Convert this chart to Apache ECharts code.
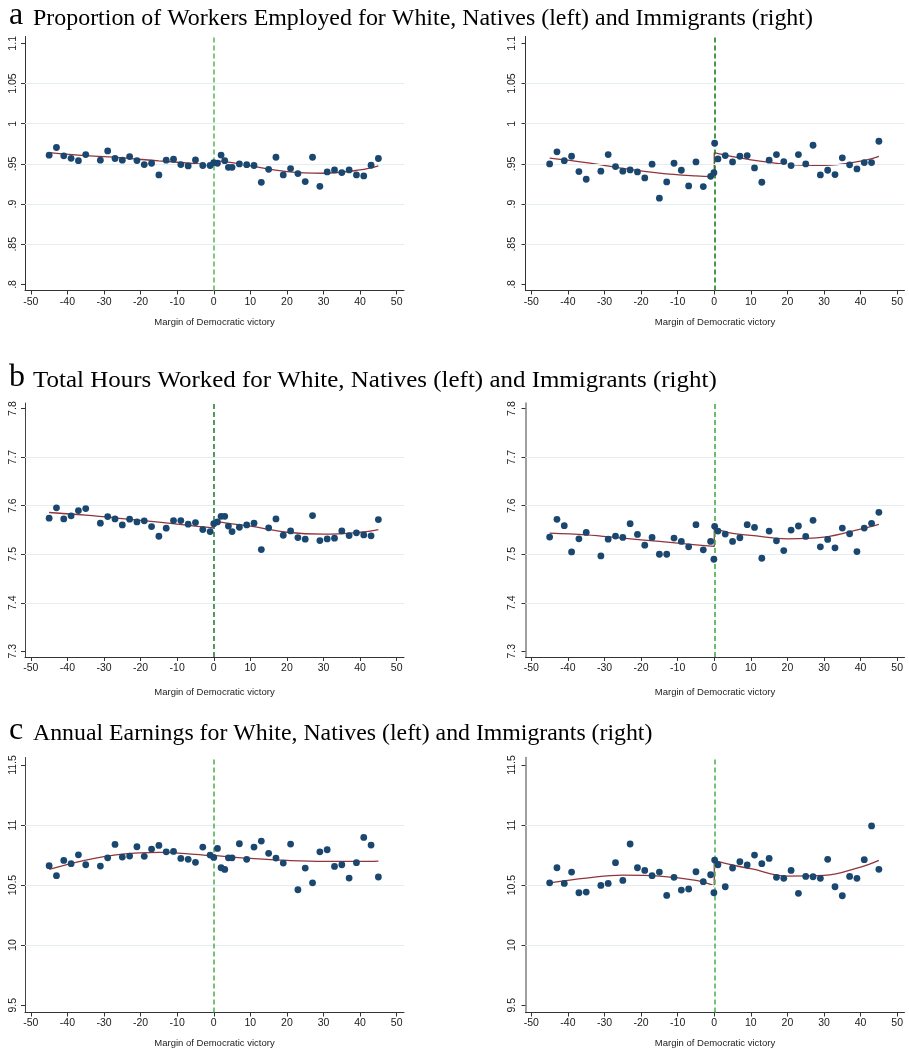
<!DOCTYPE html>
<html>
<head>
<meta charset="utf-8">
<title>Regression discontinuity plots</title>
<script src="https://cdn.jsdelivr.net/npm/echarts@6/dist/echarts.min.js"></script>
<style>
  html, body { margin: 0; padding: 0; background: #fff; }
  #chart { width: 909px; height: 1050px; }
</style>
</head>
<body>
<div id="chart"></div>
<script>
// bin positions (margin of Democratic victory)
const xNatives = [-45, -43, -41, -39, -37, -35, -31, -29, -27, -25, -23, -21, -19, -17, -15, -13, -11, -9, -7, -5, -3, -1,
  0, 1, 2, 3, 4, 5, 7, 9, 11, 13, 15, 17, 19, 21, 23, 25, 27, 29, 31, 33, 35, 37, 39, 41, 43, 45]
const xImmigrants = [-45, -43, -41, -39, -37, -35, -31, -29, -27, -25, -23, -21, -19, -17, -15, -13, -11, -9, -7, -5, -3, -1,
  -0.1, 0.1, 1, 3, 5, 7, 9, 11, 13, 15, 17, 19, 21, 23, 25, 27, 29, 31, 33, 35, 37, 39, 41, 43, 45]

// a: proportion employed
const empNatives = [0.9608, 0.9704, 0.960, 0.957, 0.954, 0.9616,
  0.9546, 0.9662, 0.9567, 0.9546, 0.9591, 0.9542, 0.9492, 0.9508, 0.9363, 0.9546, 0.9558, 0.9492, 0.9475, 0.955, 0.948, 0.948,
  0.9517, 0.9508, 0.9610, 0.954, 0.9457, 0.9457,
  0.950, 0.949, 0.948, 0.9271, 0.9433, 0.9583, 0.9363, 0.9442, 0.938, 0.928, 0.9583, 0.9221, 0.940, 0.9425, 0.9392, 0.9425, 0.9363, 0.935, 0.9483, 0.9567]
const empImmigrants = [0.950, 0.965, 0.954, 0.9595, 0.9405, 0.9309,
  0.941, 0.9616, 0.9467, 0.941, 0.9425, 0.940, 0.9326, 0.9496, 0.9073, 0.9276, 0.9508, 0.9421, 0.9226, 0.9525, 0.9218, 0.9345,
  0.939, 0.9757,
  0.9562, 0.9604, 0.9525, 0.9595, 0.9604, 0.945, 0.9272, 0.9546, 0.9616, 0.9529, 0.9479, 0.9616, 0.950, 0.9732, 0.9363, 0.9421, 0.9367, 0.9575, 0.9488, 0.9438, 0.9517, 0.9517, 0.9782]

// b: total hours worked (log)
const hoursNatives = [7.5742, 7.5955, 7.5728, 7.579, 7.590, 7.594,
  7.564, 7.5776, 7.5728, 7.5604, 7.5721, 7.5666, 7.5687, 7.557, 7.537, 7.5536, 7.5694, 7.5694, 7.5618, 7.5652, 7.5508, 7.5467,
  7.563, 7.5666, 7.578, 7.578, 7.558, 7.5467,
  7.5556, 7.5604, 7.564, 7.5096, 7.5543, 7.5728, 7.5391, 7.548, 7.5343, 7.5309, 7.5797, 7.5282, 7.5316, 7.533, 7.548, 7.5385, 7.544, 7.5398, 7.5378, 7.5714]
const hoursImmigrants = [7.5353, 7.5719, 7.5588, 7.5048, 7.5318, 7.545,
  7.4965, 7.5311, 7.5373, 7.5346, 7.5629, 7.5408, 7.5187, 7.5346, 7.500, 7.500, 7.5332, 7.5263, 7.5152, 7.5609, 7.509, 7.5263,
  7.4896, 7.5574,
  7.5477, 7.5415, 7.5263, 7.5339, 7.5609, 7.5553, 7.4917, 7.5477, 7.5277, 7.5076, 7.5498, 7.5581, 7.5367, 7.5698, 7.5152, 7.5304, 7.5131, 7.5539, 7.5422, 7.5055, 7.5539, 7.5636, 7.5864]

// c: annual earnings (log)
const earnNatives = [10.661, 10.578, 10.705, 10.678, 10.752, 10.669,
  10.658, 10.727, 10.838, 10.733, 10.741, 10.819, 10.739, 10.80, 10.83, 10.777, 10.780, 10.722, 10.714, 10.689, 10.816, 10.75,
  10.73, 10.805, 10.644, 10.63, 10.727, 10.727,
  10.844, 10.714, 10.816, 10.866, 10.764, 10.725, 10.683, 10.841, 10.461, 10.641, 10.519, 10.777, 10.794, 10.655, 10.669, 10.558, 10.686, 10.897, 10.833, 10.567]
const earnImmigrants = [10.519, 10.644, 10.514, 10.608, 10.436, 10.442,
  10.497, 10.514, 10.686, 10.539, 10.842, 10.644, 10.622, 10.578, 10.608, 10.414, 10.564, 10.458, 10.467, 10.611, 10.528, 10.586,
  10.436, 10.708,
  10.669, 10.486, 10.642, 10.694, 10.667, 10.75, 10.678, 10.722, 10.564, 10.556, 10.622, 10.431, 10.572, 10.569, 10.556, 10.714, 10.486, 10.411, 10.572, 10.556, 10.711, 10.992, 10.631]

// fitted curves, read at these x values on each side of the cutoff
const fitXLeft = [-45, -35, -25, -15, -5, 0]
const fitXRight = [0, 5, 10, 20, 30, 40, 45]
const fitEmpNatL = [0.9641, 0.9604, 0.9575, 0.9537, 0.9504, 0.9483]
const fitEmpNatR = [0.9537, 0.9517, 0.9475, 0.9404, 0.9384, 0.9425, 0.9475]
const fitEmpImmL = [0.9571, 0.9515, 0.9445, 0.9385, 0.935, 0.9342]
const fitEmpImmR = [0.9641, 0.959, 0.955, 0.9495, 0.9483, 0.9535, 0.9595]
const fitHrsNatL = [7.5859, 7.5804, 7.5735, 7.566, 7.5577, 7.554]
const fitHrsNatR = [7.5686, 7.5625, 7.5577, 7.5453, 7.5412, 7.5453, 7.5508]
const fitHrsImmL = [7.5436, 7.540, 7.5332, 7.5263, 7.5194, 7.516]
const fitHrsImmR = [7.5526, 7.5429, 7.5387, 7.5318, 7.5353, 7.5519, 7.5615]
const fitEarnNatL = [10.63, 10.708, 10.758, 10.772, 10.755, 10.739]
const fitEarnNatR = [10.747, 10.733, 10.722, 10.705, 10.697, 10.697, 10.70]
const fitEarnImmL = [10.519, 10.558, 10.583, 10.575, 10.539, 10.494]
const fitEarnImmR = [10.706, 10.667, 10.636, 10.575, 10.58, 10.65, 10.706]

// axis ticks
const xTicks = [-50, -40, -30, -20, -10, 0, 10, 20, 30, 40, 50]
const yTicksEmp = [0.8, 0.85, 0.9, 0.95, 1, 1.05, 1.1]
const yTicksHrs = [7.3, 7.4, 7.5, 7.6, 7.7, 7.8]
const yTicksEarn = [9.5, 10, 10.5, 11, 11.5]

const titleLetters = ['a', 'b', 'c']
const titleTexts = [
  'Proportion of Workers Employed for White, Natives (left) and Immigrants (right)',
  'Total Hours Worked for White, Natives (left) and Immigrants (right)',
  'Annual Earnings for White, Natives (left) and Immigrants (right)'
]
const xAxisName = 'Margin of Democratic victory'

// layout
const colLeft = [25, 525.5]
const gridWidth = 379
const rowTop = [36.5, 403, 757.5]
const rowHeight = [254, 254, 255]
const rowYExtent = [[0.7925, 1.1085], [7.2883, 7.8115], [9.439, 11.562]]
const rowLabelMargin = [6, 6, 5]
const rowNameGap = [27, 30, 26]
const titleBaseline = [26, 388, 741]
const titleScaleX = [1.04, 1.085, 1.035]
const xExtent = [-51.6, 52]

const dotColor = '#1a476f'
const fitColor = '#90353b'
const gridColor = '#e4edef'
const serif = '"Liberation Serif", "Times New Roman", serif'
const sans = '"Liberation Sans", Arial, sans-serif'

const panels = [
  { row: 0, col: 0, x: xNatives, y: empNatives, fitL: fitEmpNatL, fitR: fitEmpNatR, ticks: yTicksEmp, cutoff: '#62bb62', yAxisColor: '#333', yAxisWidth: 1 },
  { row: 0, col: 1, x: xImmigrants, y: empImmigrants, fitL: fitEmpImmL, fitR: fitEmpImmR, ticks: yTicksEmp, cutoff: '#1a821a', yAxisColor: '#333', yAxisWidth: 1 },
  { row: 1, col: 0, x: xNatives, y: hoursNatives, fitL: fitHrsNatL, fitR: fitHrsNatR, ticks: yTicksHrs, cutoff: '#2a7f3a', yAxisColor: '#444', yAxisWidth: 1 },
  { row: 1, col: 1, x: xImmigrants, y: hoursImmigrants, fitL: fitHrsImmL, fitR: fitHrsImmR, ticks: yTicksHrs, cutoff: '#45ad45', yAxisColor: '#888', yAxisWidth: 1.6 },
  { row: 2, col: 0, x: xNatives, y: earnNatives, fitL: fitEarnNatL, fitR: fitEarnNatR, ticks: yTicksEarn, cutoff: '#55b455', yAxisColor: '#444', yAxisWidth: 1 },
  { row: 2, col: 1, x: xImmigrants, y: earnImmigrants, fitL: fitEarnImmL, fitR: fitEarnImmR, ticks: yTicksEarn, cutoff: '#55b455', yAxisColor: '#888', yAxisWidth: 1.6 }
]

const zip = (xs, ys) => xs.map((x, i) => [x, ys[i]])
const fmtY = v => String(v).replace(/^0\./, '.')

const grid = []
const xAxis = []
const yAxis = []
const series = []

panels.forEach((p, i) => {
  grid.push({
    left: colLeft[p.col],
    top: rowTop[p.row],
    width: gridWidth,
    height: rowHeight[p.row],
    containLabel: false
  })
  xAxis.push({
    type: 'value',
    gridIndex: i,
    min: xExtent[0],
    max: xExtent[1],
    name: xAxisName,
    nameLocation: 'middle',
    nameGap: rowNameGap[p.row],
    nameTextStyle: { fontFamily: sans, fontSize: 9.5, color: '#222' },
    axisLine: { show: true, onZero: false, lineStyle: { color: '#333', width: 1 } },
    axisTick: { show: true, length: 4, customValues: xTicks, lineStyle: { color: '#333' } },
    axisLabel: { customValues: xTicks, margin: rowLabelMargin[p.row], fontFamily: sans, fontSize: 10.5, color: '#1a1a1a' },
    splitLine: { show: false }
  })
  yAxis.push({
    type: 'value',
    gridIndex: i,
    min: rowYExtent[p.row][0],
    max: rowYExtent[p.row][1],
    axisLine: { show: true, onZero: false, lineStyle: { color: p.yAxisColor, width: p.yAxisWidth } },
    axisTick: { show: true, length: 4, customValues: p.ticks, lineStyle: { color: '#333' } },
    axisLabel: {
      customValues: p.ticks,
      rotate: 90,
      margin: p.col === 0 ? 6 : 7.5,
      fontFamily: sans,
      fontSize: 10.5,
      color: '#1a1a1a',
      formatter: fmtY
    },
    splitLine: { show: false }
  })

  // light gridlines at the inner ticks
  series.push({
    type: 'scatter', xAxisIndex: i, yAxisIndex: i, data: [], silent: true, z: 1,
    markLine: {
      silent: true, animation: false, symbol: ['none', 'none'],
      label: { show: false }, emphasis: { disabled: true },
      lineStyle: { color: gridColor, type: 'solid', width: 1 },
      data: p.ticks.slice(1, -1).map(v => ({ yAxis: v }))
    }
  })
  // cutoff line
  series.push({
    type: 'scatter', xAxisIndex: i, yAxisIndex: i, data: [], silent: true, z: 2,
    markLine: {
      silent: true, animation: false, symbol: ['none', 'none'],
      label: { show: false }, emphasis: { disabled: true },
      lineStyle: { color: p.cutoff, type: [5, 3], width: 1.6 },
      data: [{ xAxis: 0 }]
    }
  })

  const fitStyle = { color: fitColor, width: 1.3 }
  series.push({
    type: 'line', xAxisIndex: i, yAxisIndex: i, data: zip(fitXLeft, p.fitL),
    smooth: 0.4, symbol: 'none', lineStyle: fitStyle, z: 3, silent: true
  })
  series.push({
    type: 'line', xAxisIndex: i, yAxisIndex: i,
    data: [[0, p.fitL[p.fitL.length - 1]], [0, p.fitR[0]]],
    symbol: 'none', lineStyle: fitStyle, z: 3, silent: true
  })
  series.push({
    type: 'line', xAxisIndex: i, yAxisIndex: i, data: zip(fitXRight, p.fitR),
    smooth: 0.4, symbol: 'none', lineStyle: fitStyle, z: 3, silent: true
  })
  series.push({
    type: 'scatter', xAxisIndex: i, yAxisIndex: i, data: zip(p.x, p.y),
    symbolSize: 6.8, itemStyle: { color: dotColor, opacity: 1 }, z: 5, silent: true
  })
})

const graphic = []
titleLetters.forEach((letter, r) => {
  graphic.push({
    type: 'text', x: 9, y: titleBaseline[r] - 10.5,
    style: { text: letter, font: '32px ' + serif, fill: '#000', verticalAlign: 'middle' }
  })
  graphic.push({
    type: 'text', x: 33, y: titleBaseline[r] - 7.5, scaleX: titleScaleX[r],
    style: { text: titleTexts[r], font: '23px ' + serif, fill: '#000', verticalAlign: 'middle' }
  })
})

const myChart = echarts.init(document.getElementById('chart'), null, { renderer: 'canvas' })
myChart.setOption({
  animation: false,
  backgroundColor: '#fff',
  grid,
  xAxis,
  yAxis,
  series,
  graphic
})

window.addEventListener('resize', () => myChart.resize())
</script>
</body>
</html>
